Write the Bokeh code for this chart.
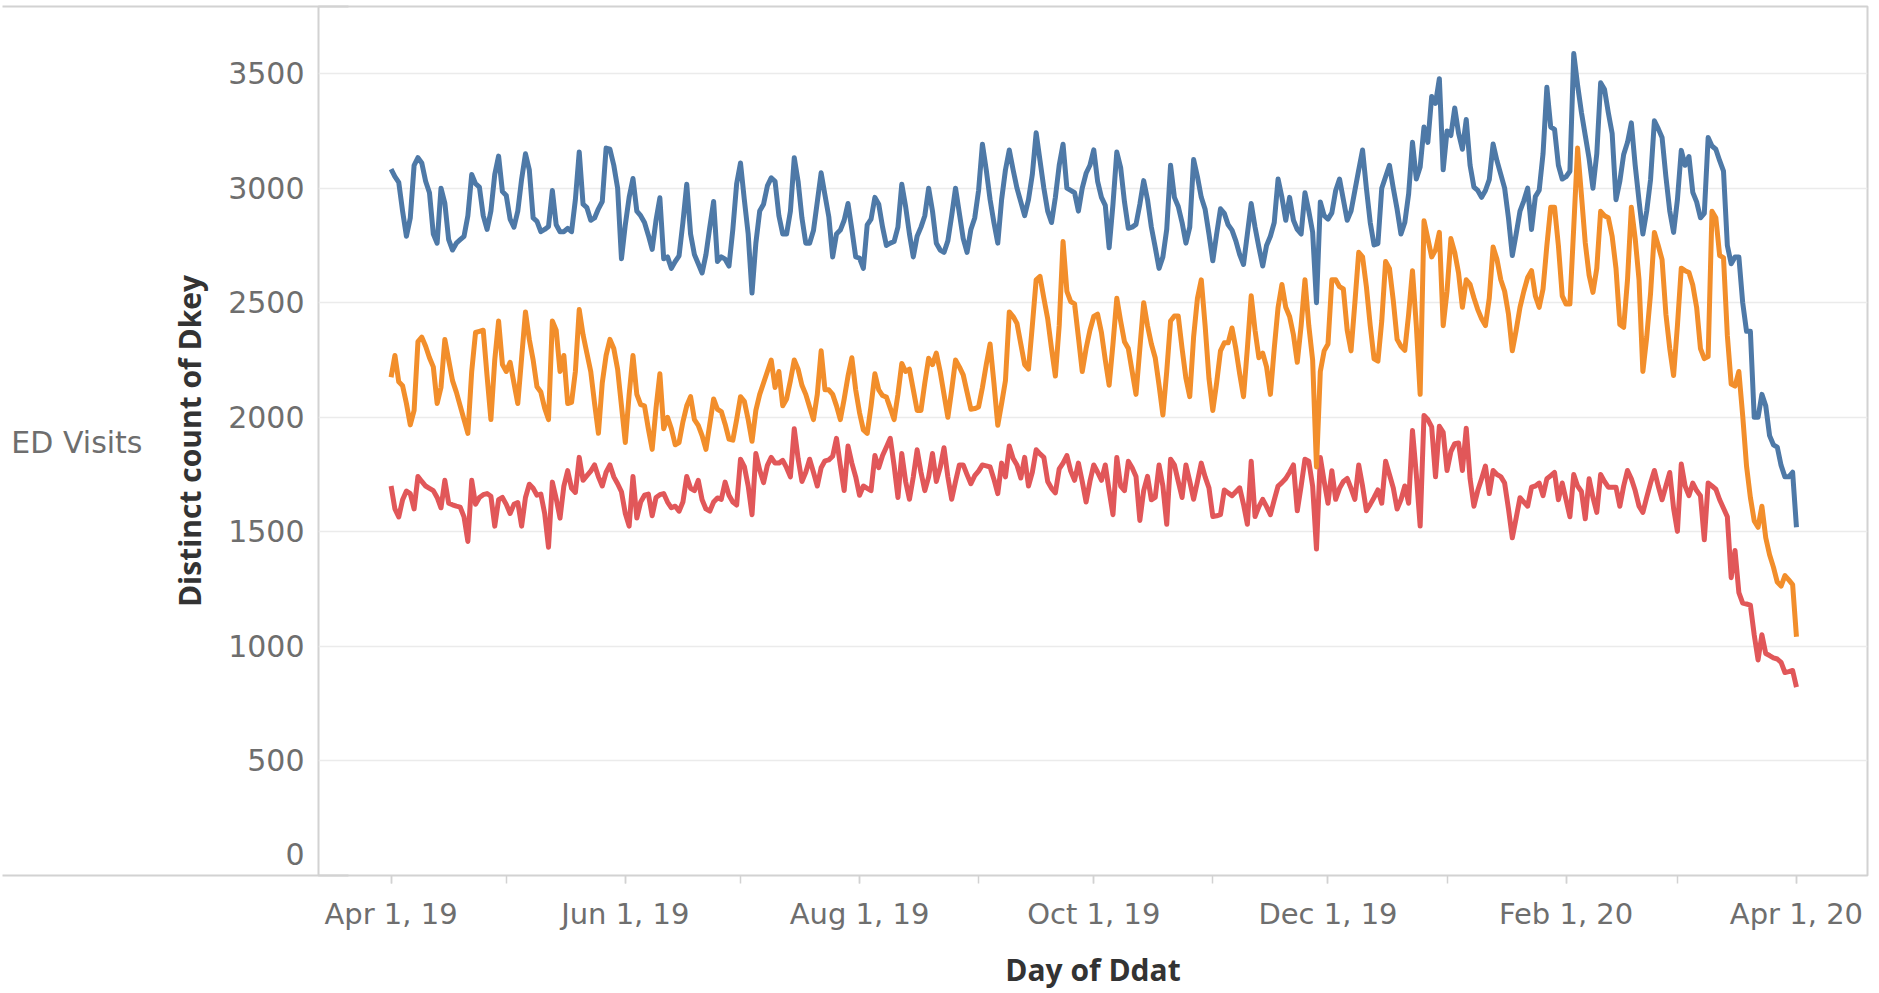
from datetime import datetime, timedelta
import pandas as pd
from bokeh.plotting import figure
from bokeh.models import ColumnDataSource, Range1d, FixedTicker, LinearAxis
from bokeh.embed import file_html
from bokeh.resources import INLINE

# ---------------- data (daily, Apr 1 2019 .. Apr 1 2020) ----------------
blue = [
    3083, 3050, 3025, 2900, 2790, 2870, 3100, 3133, 3110, 3030,
    2980, 2800, 2760, 3000, 2935, 2775, 2730, 2760, 2775, 2790,
    2880, 3060, 3020, 3005, 2880, 2820, 2900, 3060, 3140, 2985,
    2968, 2865, 2830, 2900, 3040, 3150, 3080, 2870, 2855, 2810,
    2820, 2833, 2990, 2840, 2810, 2810, 2825, 2810, 2950, 3158,
    2930, 2915, 2860, 2870, 2910, 2942, 3175, 3170, 3100, 3000,
    2692, 2840, 2960, 3042, 2900, 2880, 2850, 2795, 2733, 2860,
    2958, 2692, 2700, 2650, 2680, 2705, 2850, 3017, 2800, 2710,
    2670, 2630, 2710, 2830, 2942, 2680, 2700, 2690, 2660, 2820,
    3020, 3110, 2950, 2800, 2542, 2760, 2900, 2930, 3010, 3045,
    3030, 2880, 2800, 2800, 2900, 3133, 3030, 2870, 2760, 2760,
    2815, 2940, 3067, 2970, 2875, 2700, 2800, 2817, 2860, 2933,
    2820, 2700, 2695, 2650, 2840, 2865, 2960, 2930, 2830, 2750,
    2760, 2767, 2830, 3017, 2920, 2800, 2700, 2790, 2830, 2880,
    3000, 2900, 2760, 2730, 2720, 2770, 2880, 3000, 2890, 2780,
    2720, 2820, 2870, 2990, 3192, 3080, 2950, 2850, 2760, 2950,
    3080, 3167, 3080, 3000, 2940, 2880, 2950, 3060, 3242, 3120,
    3000, 2900, 2850, 2960, 3100, 3192, 3000, 2990, 2980, 2900,
    3000, 3065, 3100, 3167, 3030, 2960, 2925, 2740, 2930, 3158,
    3090, 2940, 2825, 2830, 2842, 2930, 3033, 2950, 2830, 2742,
    2650, 2700, 2820, 3100, 2960, 2920, 2850, 2760, 2830, 3125,
    3050, 2960, 2908, 2800, 2683, 2800, 2910, 2890, 2840, 2817,
    2770, 2710, 2667, 2800, 2933, 2830, 2742, 2660, 2750, 2790,
    2850, 3040, 2960, 2860, 2960, 2860, 2820, 2800, 2980, 2900,
    2808, 2500, 2940, 2880, 2865, 2892, 2990, 3040, 2950, 2860,
    2900, 2990, 3080, 3167, 3000, 2850, 2752, 2758, 3000, 3050,
    3100, 3000, 2908, 2800, 2850, 2975, 3200, 3040, 3092, 3267,
    3200, 3400, 3370, 3478, 3080, 3250, 3230, 3350, 3240, 3170,
    3300, 3100, 3005, 2990, 2960, 2990, 3037, 3193, 3120, 3060,
    3000, 2870, 2706, 2800, 2900, 2945, 3000, 2820, 2963, 2991,
    3150, 3441, 3267, 3257, 3100, 3040, 3050, 3074, 3588, 3450,
    3331, 3230, 3129, 3000, 3150, 3460, 3432, 3330, 3239, 2950,
    3030, 3147, 3200, 3285, 3100, 2945, 2800, 2900, 3037, 3294,
    3260, 3221, 3050, 2900, 2807, 2950, 3165, 3100, 3138, 2982,
    2940, 2871, 2890, 3221, 3184, 3170, 3120, 3074, 2750, 2670,
    2700, 2700, 2500, 2375, 2375, 2000, 2000, 2100, 2050, 1920,
    1880, 1870, 1790, 1740, 1740, 1760, 1520,
]

orange = [
    2175, 2270, 2155, 2138, 2060, 1967, 2030, 2330, 2350, 2310,
    2260, 2220, 2060, 2130, 2340, 2250, 2160, 2110, 2050, 1990,
    1930, 2200, 2370, 2375, 2380, 2180, 1990, 2250, 2420, 2230,
    2200, 2240, 2150, 2060, 2260, 2460, 2340, 2250, 2133, 2110,
    2040, 1990, 2420, 2380, 2200, 2270, 2060, 2065, 2200, 2470,
    2360, 2280, 2200, 2060, 1930, 2150, 2270, 2340, 2300, 2210,
    2050, 1890, 2100, 2270, 2100, 2055, 2050, 1950, 1860, 2040,
    2190, 1950, 2000, 1950, 1880, 1890, 1980, 2050, 2090, 1990,
    1965, 1920, 1860, 1970, 2080, 2035, 2025, 1970, 1905, 1900,
    1990, 2090, 2070, 1990, 1895, 2030, 2100, 2150, 2200, 2250,
    2130, 2200, 2050, 2080, 2160, 2250, 2210, 2140, 2100, 2045,
    1990, 2100, 2290, 2120, 2120, 2100, 2050, 1990, 2080, 2180,
    2260, 2120, 2020, 1945, 1930, 2050, 2190, 2120, 2095, 2088,
    2040, 1990, 2100, 2235, 2200, 2210, 2120, 2030, 2030, 2150,
    2258, 2230, 2280, 2200, 2100, 2000, 2120, 2250, 2220, 2185,
    2110, 2035, 2038, 2045, 2130, 2230, 2320, 2150, 1965, 2060,
    2160, 2460, 2440, 2410, 2320, 2230, 2210, 2400, 2600, 2615,
    2520, 2430, 2300, 2180, 2400, 2767, 2550, 2505, 2495, 2350,
    2200, 2300, 2380, 2440, 2450, 2370, 2250, 2140, 2320, 2520,
    2420, 2330, 2300, 2200, 2100, 2300, 2500, 2400, 2320, 2260,
    2140, 2010, 2200, 2420, 2442, 2442, 2300, 2170, 2090, 2350,
    2520, 2600, 2400, 2170, 2030, 2150, 2290, 2325, 2325, 2390,
    2300, 2190, 2090, 2300, 2530, 2380, 2260, 2280, 2220, 2100,
    2300, 2480, 2580, 2480, 2440, 2360, 2240, 2400, 2600, 2400,
    2250, 1783, 2200, 2290, 2320, 2600, 2600, 2570, 2560, 2380,
    2290, 2500, 2720, 2700, 2570, 2400, 2255, 2245, 2420, 2680,
    2650, 2510, 2340, 2310, 2292, 2450, 2640, 2400, 2100, 2858,
    2780, 2700, 2730, 2807, 2400, 2550, 2780, 2720, 2630, 2480,
    2600, 2580, 2522, 2470, 2430, 2400, 2520, 2743, 2690, 2600,
    2550, 2450, 2290, 2380, 2480, 2550, 2610, 2640, 2530, 2480,
    2560, 2750, 2917, 2917, 2750, 2530, 2494, 2494, 2830, 3175,
    2970, 2761, 2620, 2545, 2650, 2899, 2880, 2871, 2790, 2650,
    2405, 2393, 2600, 2917, 2780, 2600, 2200, 2350, 2540, 2807,
    2750, 2688, 2450, 2300, 2182, 2400, 2651, 2640, 2632, 2577,
    2480, 2300, 2256, 2265, 2899, 2871, 2706, 2697, 2357, 2145,
    2136, 2200, 2007, 1787, 1650, 1548, 1520, 1612, 1474, 1400,
    1346, 1281, 1263, 1309, 1290, 1270, 1042,
]

red = [
    1700, 1600, 1565, 1640, 1678, 1667, 1600, 1742, 1720, 1700,
    1690, 1680, 1650, 1605, 1725, 1625, 1618, 1612, 1608, 1565,
    1458, 1725, 1620, 1650, 1662, 1667, 1655, 1525, 1640, 1650,
    1620, 1580, 1620, 1628, 1525, 1650, 1708, 1690, 1660, 1665,
    1580, 1433, 1717, 1645, 1560, 1700, 1767, 1690, 1672, 1825,
    1725, 1745, 1765, 1792, 1740, 1700, 1760, 1792, 1740, 1710,
    1675, 1580, 1525, 1742, 1560, 1630, 1660, 1665, 1570, 1650,
    1662, 1667, 1630, 1605, 1612, 1590, 1630, 1742, 1690, 1680,
    1725, 1640, 1600, 1590, 1630, 1648, 1642, 1717, 1660, 1630,
    1617, 1817, 1785, 1700, 1575, 1842, 1770, 1715, 1790, 1825,
    1800, 1800, 1812, 1780, 1740, 1950, 1820, 1720, 1760, 1817,
    1760, 1700, 1780, 1810, 1814, 1830, 1908, 1790, 1680, 1875,
    1800, 1740, 1660, 1700, 1690, 1680, 1833, 1780, 1833, 1870,
    1908, 1790, 1650, 1842, 1720, 1642, 1740, 1858, 1760, 1680,
    1740, 1842, 1720, 1780, 1867, 1740, 1642, 1720, 1792, 1792,
    1750, 1710, 1745, 1765, 1792, 1788, 1783, 1730, 1667, 1800,
    1740, 1875, 1820, 1792, 1735, 1825, 1700, 1760, 1858, 1840,
    1825, 1720, 1690, 1670, 1775, 1800, 1833, 1765, 1725, 1800,
    1720, 1630, 1720, 1792, 1760, 1725, 1792, 1680, 1575, 1825,
    1700, 1680, 1808, 1780, 1742, 1550, 1680, 1742, 1640, 1650,
    1792, 1700, 1533, 1817, 1792, 1720, 1650, 1792, 1720, 1642,
    1720, 1800, 1740, 1692, 1567, 1570, 1575, 1683, 1670, 1658,
    1675, 1692, 1620, 1533, 1808, 1567, 1610, 1642, 1610, 1575,
    1640, 1700, 1715, 1733, 1760, 1792, 1592, 1700, 1817, 1808,
    1700, 1425, 1825, 1720, 1625, 1767, 1642, 1690, 1720, 1733,
    1690, 1642, 1792, 1700, 1592, 1620, 1650, 1683, 1625, 1808,
    1750, 1692, 1600, 1640, 1700, 1625, 1942, 1750, 1525, 2008,
    1990, 1958, 1740, 1961, 1934, 1768, 1850, 1885, 1888, 1768,
    1952, 1732, 1612, 1680, 1732, 1787, 1667, 1768, 1750, 1741,
    1713, 1600, 1474, 1560, 1649, 1630, 1612, 1695, 1700, 1713,
    1658, 1732, 1745, 1759, 1640, 1713, 1640, 1566, 1750, 1700,
    1676, 1557, 1732, 1650, 1585, 1750, 1720, 1695, 1695, 1695,
    1612, 1700, 1768, 1732, 1680, 1612, 1585, 1650, 1713, 1768,
    1700, 1640, 1700, 1759, 1603, 1502, 1796, 1700, 1658, 1713,
    1680, 1658, 1465, 1713, 1700, 1686, 1640, 1603, 1566, 1300,
    1419, 1235, 1189, 1185, 1180, 1050, 941, 1051, 969, 960,
    950, 945, 930, 886, 890, 895, 822,
]

tick_dates = ["2019-04-01", "2019-06-01", "2019-08-01", "2019-10-01",
              "2019-12-01", "2020-02-01", "2020-04-01"]
tick_labels = ["Apr 1, 19", "Jun 1, 19", "Aug 1, 19", "Oct 1, 19",
               "Dec 1, 19", "Feb 1, 20", "Apr 1, 20"]
y_ticks = [0, 500, 1000, 1500, 2000, 2500, 3000, 3500]
row_header = "ED Visits"

# ---------------- build ----------------
start = datetime(2019, 4, 1)
n = min(len(blue), len(orange), len(red))
dates = [start + timedelta(days=i) for i in range(n)]
src = ColumnDataSource(dict(date=dates, blue=blue[:n], orange=orange[:n], red=red[:n]))


def ms(d):
    return int(pd.Timestamp(d).timestamp() * 1000)


Y_TOP = 3793
x0 = start - timedelta(days=18.9)
x1 = start + timedelta(days=384.5)

p = figure(width=1875, height=993, x_axis_type="datetime",
           output_backend="svg", toolbar_location=None,
           x_range=Range1d(x0, x1), y_range=Range1d(0, Y_TOP),
           min_border_left=318, min_border_right=8,
           min_border_top=6, min_border_bottom=118)

p.background_fill_color = "white"
p.border_fill_color = "white"
p.outline_line_color = "#d2d2d2"
p.outline_line_width = 2

TICK_FONT = "DejaVu Sans"
TICK_COLOR = "#6e6e6e"
TITLE_FONT = "Open Sans"
TITLE_COLOR = "#333333"
RULE = "#d2d2d2"

# lines
p.line("date", "red", source=src, line_color="#e15759", line_width=5, line_join="round")
p.line("date", "blue", source=src, line_color="#4e79a7", line_width=5, line_join="round")
p.line("date", "orange", source=src, line_color="#f28e2b", line_width=5, line_join="round")

# grids
p.xgrid.visible = False
p.ygrid.grid_line_color = "#ebebeb"
p.ygrid.grid_line_width = 1.5

# y axis
ya = p.yaxis[0]
ya.ticker = FixedTicker(ticks=y_ticks)
ya.major_label_overrides = {0: "0\n "}   # lift the 0 label above the frame edge
ya.axis_line_color = None
ya.major_tick_line_color = None
ya.minor_tick_line_color = None
ya.major_tick_out = 0
ya.major_tick_in = 0
ya.major_label_standoff = 14
ya.major_label_text_font = TICK_FONT
ya.major_label_text_font_size = "30px"
ya.major_label_text_color = TICK_COLOR
ya.axis_label = "Distinct count of Dkey"
ya.axis_label_standoff = 15
ya.axis_label_text_font = TITLE_FONT
ya.axis_label_text_font_size = "30px"
ya.axis_label_text_font_style = "bold"
ya.axis_label_text_color = TITLE_COLOR

# row header "ED Visits" as an outer, tickless axis
hdr = LinearAxis(ticker=FixedTicker(ticks=[1890]),
                 major_label_overrides={1890: row_header})
hdr.axis_line_color = None
hdr.major_tick_line_color = None
hdr.minor_tick_line_color = None
hdr.major_tick_out = 0
hdr.major_tick_in = 0
hdr.major_label_standoff = 24
hdr.major_label_text_font = TICK_FONT
hdr.major_label_text_font_size = "30px"
hdr.major_label_text_color = TICK_COLOR
p.add_layout(hdr, "left")

# outermost axis whose long inward ticks draw the header rules at top & bottom
rules = LinearAxis(ticker=FixedTicker(ticks=[0, Y_TOP]),
                   major_label_overrides={0: "", Y_TOP: ""})
rules.axis_line_color = None
rules.minor_tick_line_color = None
rules.major_tick_line_color = RULE
rules.major_tick_line_width = 2
rules.major_tick_out = 6
rules.major_tick_in = 340
rules.major_label_standoff = 0
rules.major_label_text_font_size = "1px"
rules.major_label_text_alpha = 0
p.add_layout(rules, "left")

# x axis
major_ms = [ms(d) for d in tick_dates]
minor_ms = [ms(d) for d in pd.date_range(tick_dates[0], tick_dates[-1], freq="MS")]
xa = p.xaxis[0]
xa.ticker = FixedTicker(ticks=major_ms, minor_ticks=minor_ms)
xa.major_label_overrides = {t: lab for t, lab in zip(major_ms, tick_labels)}
xa.axis_line_color = None
xa.major_tick_in = 0
xa.major_tick_out = 8
xa.minor_tick_in = 0
xa.minor_tick_out = 8
xa.major_tick_line_color = RULE
xa.minor_tick_line_color = RULE
xa.major_tick_line_width = 1.5
xa.minor_tick_line_width = 1.5
xa.major_label_standoff = 13
xa.major_label_text_font = TICK_FONT
xa.major_label_text_font_size = "29px"
xa.major_label_text_color = TICK_COLOR
xa.axis_label = "Day of Ddat"
xa.axis_label_standoff = 15
xa.axis_label_text_font = TITLE_FONT
xa.axis_label_text_font_size = "30px"
xa.axis_label_text_font_style = "bold"
xa.axis_label_text_color = TITLE_COLOR

open("out.html", "w").write(file_html(p, INLINE))
